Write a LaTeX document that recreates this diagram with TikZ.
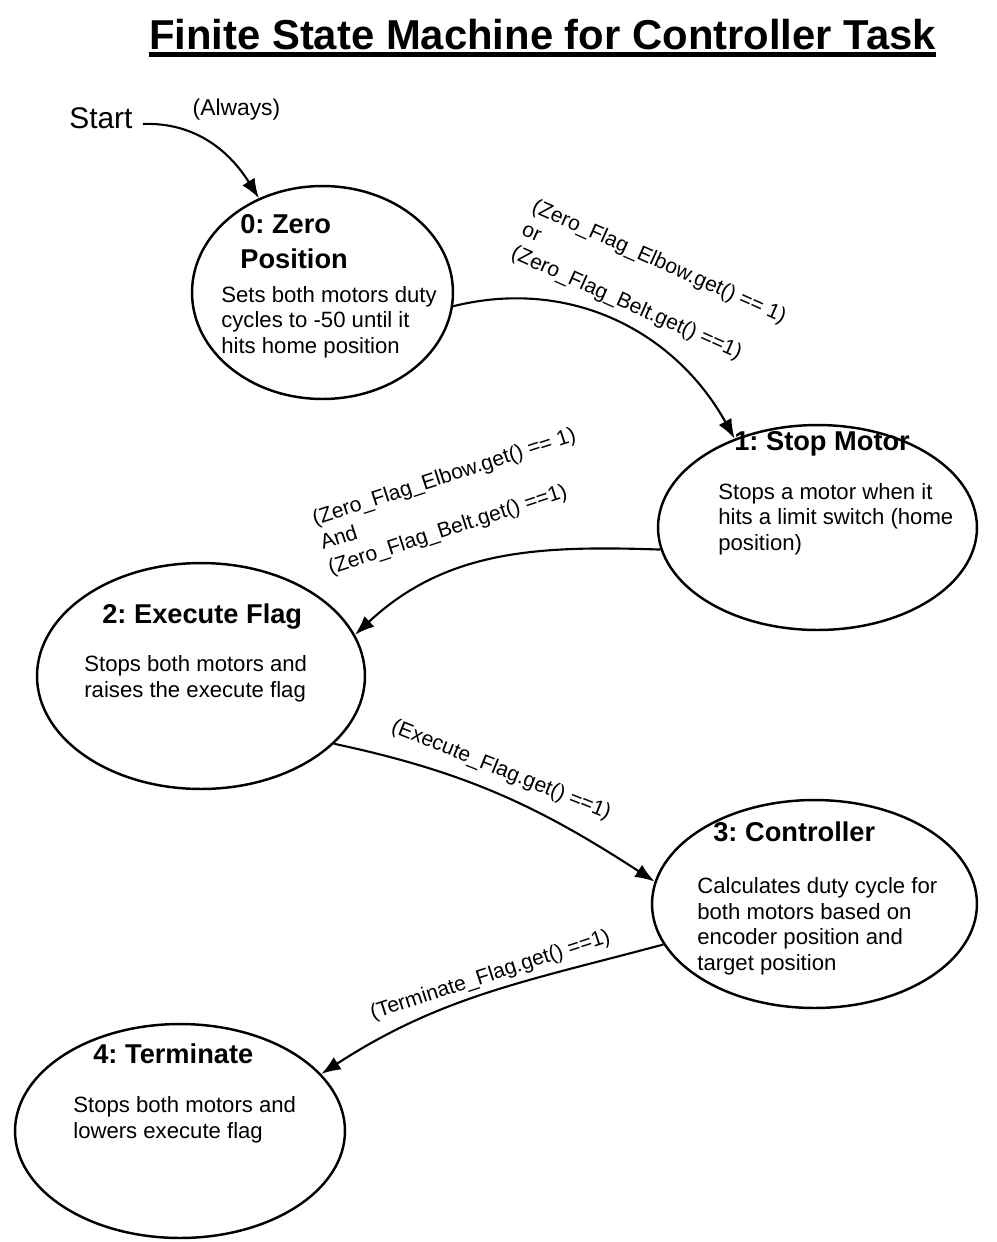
\documentclass[tikz,border=0pt]{standalone}
\usepackage{fontspec}
\setmainfont{Liberation Sans}
\frenchspacing
\usepackage{tikz}
\usetikzlibrary{calc}
\usetikzlibrary{positioning}
\usetikzlibrary{shapes}
\usetikzlibrary{arrows.meta}

\begin{document}
\begin{tikzpicture}[x=0.02cm, y=0.02cm,
    state/.style={draw, ellipse, line width=1.4pt, inner sep=0pt},
    statename/.style={inner sep=0pt, anchor=base west, align=left, font=\fontsize{15.5}{19.8}\selectfont\bfseries},
    body/.style={inner sep=0pt, anchor=base west, align=left, font=\fontsize{12.6}{14.5}\selectfont},
    cond/.style={inner sep=0pt, align=left, font=\fontsize{12}{14.5}\selectfont},
    trans/.style={line width=1.2pt, -{Latex[length=3.9mm, width=2.9mm]}}]
    \useasboundingbox (0, 0) rectangle (997, -1242);

    \node[inner sep=0pt, anchor=base, font=\fontsize{23.8}{28}\selectfont\bfseries] (title) at (542.5, -49) {Finite State Machine for Controller Task};
    \draw[line width=2.6pt] ([yshift=-3.1pt]title.base west) -- ([yshift=-3.1pt]title.base east);

    \node[inner sep=0pt, anchor=base west, font=\fontsize{17}{20}\selectfont] (start) at (69, -128) {Start};
    \node[inner sep=0pt, anchor=base, font=\fontsize{13}{15}\selectfont] (always) at (236.5, -115) {(Always)};

    % states
    \node[state, minimum width=5.22cm, minimum height=4.26cm] (zero) at (322.5, -292.5) {};
    \node[state, minimum width=6.38cm, minimum height=4.1cm] (stop) at (817.5, -527.5) {};
    \node[state, minimum width=6.56cm, minimum height=4.52cm] (exec) at (201, -676) {};
    \node[state, minimum width=6.5cm, minimum height=4.16cm] (ctrl) at (814.5, -904) {};
    \node[state, minimum width=6.6cm, minimum height=4.28cm] (term) at (180, -1131) {};

    % texts (placed at the baseline of their last line)
    \node[statename] (zeroname) at (240, -268) {0: Zero\\Position};
    \node[body] (zerotext) at (221, -353) {Sets both motors duty\\cycles to -50 until it\\hits home position};
    \node[statename] (stopname) at (734, -450) {1: Stop Motor};
    \node[body] (stoptext) at (718, -550) {Stops a motor when it\\hits a limit switch (home\\position)};
    \node[statename] (execname) at (102, -623) {2: Execute Flag};
    \node[body] (exectext) at (84, -697) {Stops both motors and\\raises the execute flag};
    \node[statename] (ctrlname) at (713, -841) {3: Controller};
    \node[body] (ctrltext) at (697, -970) {Calculates duty cycle for\\both motors based on\\encoder position and\\target position};
    \node[statename] (termname) at (93, -1063) {4: Terminate};
    \node[body] (termtext) at (73, -1138) {Stops both motors and\\lowers execute flag};

    % conditions
    \node[cond, rotate=-24, anchor=north west] (orcond) at (537, -197) {(Zero\_Flag\_Elbow.get() == 1)\\or\\(Zero\_Flag\_Belt.get() ==1)};
    \node[cond, rotate=18, anchor=north west] (andcond) at (310, -511) {(Zero\_Flag\_Elbow.get() == 1)\\And\\(Zero\_Flag\_Belt.get() ==1)};
    \node[cond, rotate=-22, anchor=north west] (execcond) at (396, -717) {(Execute\_Flag.get() ==1)};
    \node[cond, rotate=18, anchor=south west] (termcond) at (374, -1024) {(Terminate\_Flag.get() ==1)};

    \draw[trans] ([xshift=5.7pt, yshift=2.3pt]start.base east) to[out=2, in=122] (zero.124);
    \draw[trans] (zero.-6) to[out=14, in=119] (stop.133);
    \draw[trans] (stop.188) to[out=178, in=43] (exec.15);
    \draw[trans] (exec.-27) to[out=-12, in=147] (ctrl.172);
    \draw[trans] (ctrl.195) to[out=195, in=33] (term.22);
\end{tikzpicture}
\end{document}
